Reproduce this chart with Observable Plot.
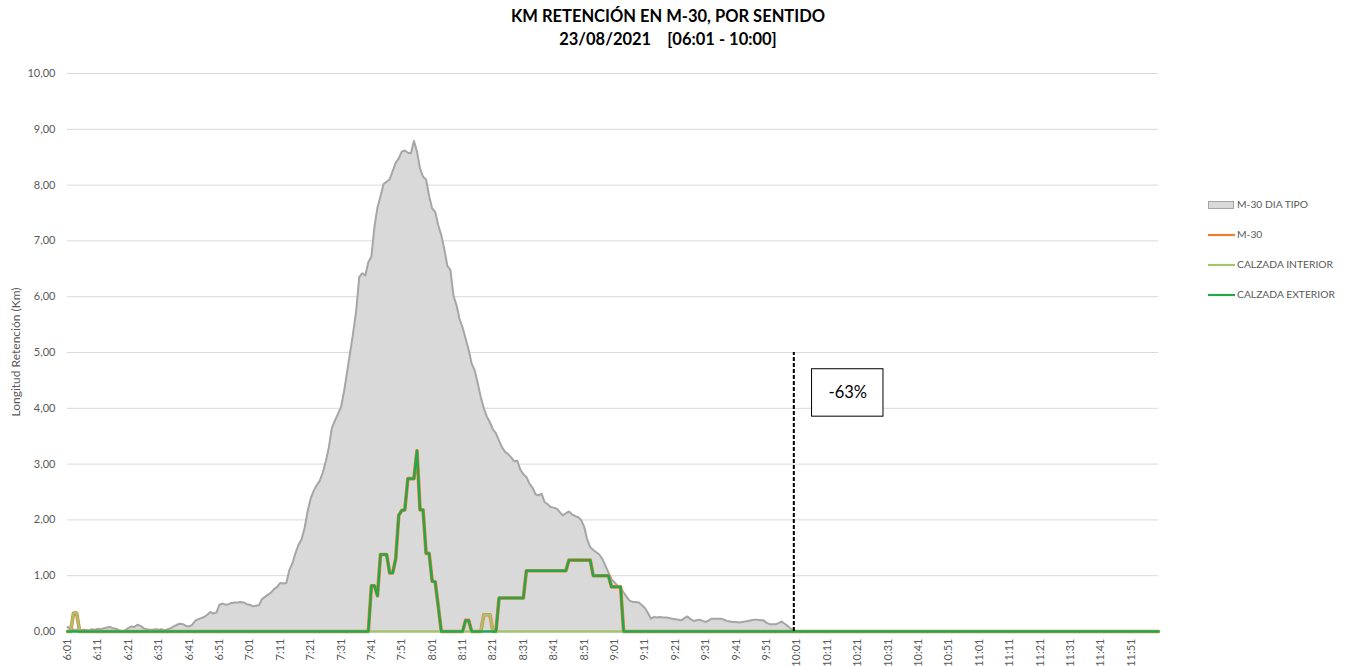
<!DOCTYPE html>
<html><head><meta charset="utf-8">
<script src="https://cdn.jsdelivr.net/npm/d3@7"></script>
<script src="https://cdn.jsdelivr.net/npm/@observablehq/plot@0.6"></script>
<style>
body{margin:0;background:#fff;font-family:Lato,"Liberation Sans",sans-serif;}
#wrap{position:relative;width:1348px;height:666px;overflow:hidden;}
#chart{position:absolute;left:0;top:0;}
#title{position:absolute;left:0;top:5px;width:1336px;text-align:center;font-weight:bold;font-size:16.5px;line-height:23px;color:#000;white-space:pre;}
#ylabel{position:absolute;left:15px;top:352px;transform:translate(-50%,-50%) rotate(-90deg);font-size:12px;color:#595959;white-space:nowrap;}
#legend{position:absolute;left:1207px;top:196px;font-size:10.3px;color:#595959;}
.li{position:relative;height:30px;}
.li svg{position:absolute;left:0;top:0;}
.li span{position:absolute;left:30px;top:2px;white-space:nowrap;}
</style></head><body>
<div id="wrap">
  <div id="chart"></div>
  <div id="title"></div>
  <div id="ylabel">Longitud Retención (Km)</div>
  <div id="legend"></div>
</div>
<script>
// ---- Text ----
const titleLines = ["KM RETENCIÓN EN M-30, POR SENTIDO", "23/08/2021    [06:01 - 10:00]"];
const seriesNames = ["M-30 DIA TIPO", "M-30", "CALZADA INTERIOR", "CALZADA EXTERIOR"];
const seriesColors = ["#d9d9d9", "#ED7D31", "#a3c46c", "#22a84a"];
const noteText = "-63%";

// ---- Categories: one per minute from 6:01 to 12:00 ----
const firstMinute = 6 * 60 + 1;
const minuteCount = 360;
const timeLabels = d3.range(minuteCount).map(i => {
  const m = firstMinute + i;
  return Math.floor(m / 60) + ":" + String(m % 60).padStart(2, "0");
});
const tickEvery = 10;
const yTicks = [0, 1, 2, 3, 4, 5, 6, 7, 8, 9, 10];

// ---- M-30 DIA TIPO: per-minute values 6:01 .. 10:00 (then 0) ----
const diaTipo = [
  0.08,0.06,0.03,0.03,0.02,0.03,0.03,0.02,0.04,0.03,
  0.05,0.04,0.06,0.07,0.08,0.06,0.05,0.02,0.01,0.02,
  0.06,0.09,0.08,0.12,0.10,0.06,0.04,0.03,0.03,0.04,
  0.03,0.04,0.02,0.04,0.06,0.09,0.12,0.14,0.13,0.10,
  0.09,0.12,0.19,0.22,0.24,0.26,0.30,0.35,0.32,0.34,
  0.48,0.50,0.48,0.49,0.51,0.52,0.52,0.53,0.52,0.49,
  0.48,0.45,0.46,0.47,0.58,0.62,0.66,0.70,0.76,0.80,
  0.87,0.86,0.87,1.10,1.22,1.40,1.55,1.65,1.85,2.15,
  2.38,2.52,2.62,2.70,2.85,3.05,3.30,3.65,3.78,3.90,
  4.02,4.30,4.65,5.00,5.35,5.75,6.35,6.42,6.38,6.62,
  6.72,7.25,7.60,7.80,8.02,8.06,8.10,8.25,8.40,8.48,
  8.60,8.62,8.58,8.57,8.79,8.60,8.30,8.15,8.10,7.80,
  7.58,7.52,7.28,7.10,6.85,6.55,6.48,6.02,5.85,5.60,
  5.45,5.25,5.05,4.80,4.68,4.45,4.20,4.00,3.85,3.75,
  3.62,3.55,3.42,3.30,3.22,3.18,3.12,3.05,3.06,2.90,
  2.82,2.77,2.65,2.58,2.46,2.44,2.47,2.32,2.28,2.23,
  2.22,2.20,2.14,2.08,2.12,2.15,2.10,2.07,2.05,2.00,
  1.88,1.65,1.51,1.46,1.42,1.38,1.30,1.18,1.06,0.94,
  0.88,0.82,0.78,0.70,0.62,0.55,0.53,0.53,0.52,0.47,
  0.42,0.33,0.23,0.26,0.25,0.26,0.25,0.25,0.24,0.23,
  0.22,0.21,0.20,0.24,0.27,0.22,0.19,0.20,0.21,0.19,
  0.17,0.20,0.23,0.23,0.23,0.23,0.21,0.19,0.18,0.17,
  0.17,0.16,0.17,0.18,0.19,0.20,0.21,0.21,0.20,0.20,
  0.16,0.13,0.13,0.13,0.15,0.18,0.14,0.10,0.05,0.02
];
const diaTipoTail = [[240, 0], [359, 0]];

// ---- Observed series: [minute index, km] points ----
const calzadaExterior = [
  [0,0],[99,0],[100,0.82],[101,0.82],[102,0.64],[103,1.38],[104,1.38],[105,1.38],
  [106,1.05],[107,1.05],[108,1.30],[109,2.08],[110,2.17],[111,2.18],[112,2.74],
  [113,2.74],[114,2.74],[115,3.24],[116,2.18],[117,2.18],[118,1.40],[119,1.40],
  [120,0.90],[121,0.89],[122,0.45],[123,0],[130,0],[131,0.20],[132,0.20],[133,0],
  [141,0],[142,0.60],[150,0.60],[151,1.09],[164,1.09],[165,1.28],[172,1.28],
  [173,1.00],[178,1.00],[179,0.80],[182,0.80],[183,0],[359,0]
];
const calzadaInterior = [
  [0,0],[1,0],[2,0.33],[3,0.33],[4,0],[136,0],[137,0.30],[138,0.30],[139,0.30],[140,0],[359,0]
];
const m30 = [
  [0,0],[1,0],[2,0.33],[3,0.33],[4,0],[99,0],[100,0.82],[101,0.82],[102,0.64],[103,1.38],
  [104,1.38],[105,1.38],[106,1.05],[107,1.05],[108,1.30],[109,2.08],[110,2.17],[111,2.18],
  [112,2.74],[113,2.74],[114,2.74],[115,3.24],[116,2.18],[117,2.18],[118,1.40],[119,1.40],
  [120,0.90],[121,0.89],[122,0.45],[123,0],[130,0],[131,0.20],[132,0.20],[133,0],[136,0],
  [137,0.30],[138,0.30],[139,0.30],[140,0],[141,0],[142,0.60],[150,0.60],[151,1.09],
  [164,1.09],[165,1.28],[172,1.28],[173,1.00],[178,1.00],[179,0.80],[182,0.80],[183,0],[359,0]
];

// ---- Annotation: end of window marker and change label ----
const cutIndex = 239;      // 10:00
const cutTop = 5;
const note = {x1: 245, x2: 268.5, y1: 3.85, y2: 4.70};

// ---- Build tables ----
const tipoData = diaTipo.map((v, i) => [i, v]).concat(diaTipoTail);
const X = d => d[0], Y = d => d[1];

const chart = Plot.plot({
  width: 1348, height: 666,
  marginTop: 73, marginBottom: 35, marginLeft: 67, marginRight: 190,
  style: {fontFamily: "Lato, 'Liberation Sans', sans-serif", fontSize: "11px", color: "#595959", background: "white", overflow: "visible"},
  x: {domain: [0, minuteCount - 1]},
  y: {domain: [0, 10]},
  marks: [
    Plot.gridY(yTicks, {stroke: "#d9d9d9", strokeOpacity: 1, strokeWidth: 1}),
    Plot.areaY(tipoData, {x: X, y: Y, fill: "#d9d9d9"}),
    Plot.lineY(tipoData, {x: X, y: Y, stroke: "#a6a6a6", strokeWidth: 2}),
    Plot.lineY(m30, {x: X, y: Y, stroke: seriesColors[1], strokeWidth: 3.6}),
    Plot.lineY(calzadaInterior, {x: X, y: Y, stroke: seriesColors[2], strokeWidth: 2.4}),
    Plot.lineY(calzadaExterior, {x: X, y: Y, stroke: seriesColors[3], strokeWidth: 2.4}),
    Plot.ruleX([cutIndex], {y1: 0, y2: cutTop, stroke: "#000", strokeWidth: 2, strokeDasharray: "4,2"}),
    Plot.rect([note], {x1: "x1", x2: "x2", y1: "y1", y2: "y2", fill: "white", stroke: "#000", strokeWidth: 1}),
    Plot.text([note], {x: d => (d.x1 + d.x2) / 2, y: d => (d.y1 + d.y2) / 2, text: () => noteText, fontSize: 16.5, fill: "#000"}),
    Plot.axisY({ticks: yTicks, tickSize: 0, tickPadding: 12, tickFormat: v => v.toFixed(2).replace(".", ","), label: null, fill: "#595959"}),
    Plot.axisX({ticks: d3.range(0, minuteCount, tickEvery), tickFormat: i => timeLabels[i], tickRotate: -90, tickSize: 0, tickPadding: 7, label: null, fill: "#595959"})
  ]
});
document.getElementById("chart").appendChild(chart);

document.getElementById("title").textContent = titleLines.join("\n");

// Legend
const legend = document.getElementById("legend");
seriesNames.forEach((name, k) => {
  const row = document.createElement("div");
  row.className = "li";
  const sw = k === 0
    ? `<svg width="30" height="14"><rect x="1.5" y="5.5" width="25" height="7" fill="${seriesColors[0]}" stroke="#a6a6a6" stroke-width="1"/></svg>`
    : `<svg width="30" height="14"><line x1="1" x2="28" y1="9" y2="9" stroke="${seriesColors[k]}" stroke-width="2.2"/></svg>`;
  row.innerHTML = sw + `<span>${name}</span>`;
  legend.appendChild(row);
});
</script>
</body></html>
